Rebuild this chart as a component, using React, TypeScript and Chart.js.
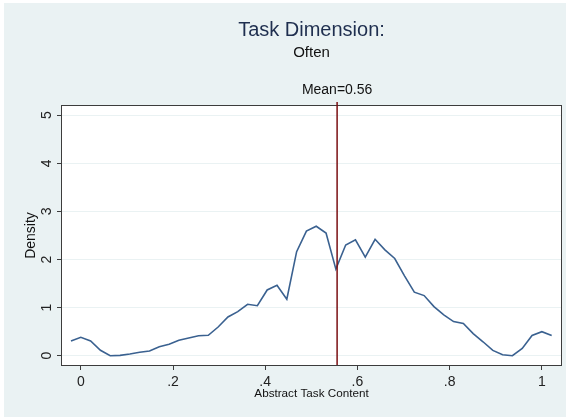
import React, { useEffect, useRef } from "react";
import { Chart, registerables } from "chart.js";

Chart.register(...registerables);

const xValues = [
  -0.0213, 0.0, 0.0213, 0.0426, 0.0638, 0.0851, 0.1064, 0.1277, 0.149, 0.1702,
  0.1915, 0.2128, 0.2341, 0.2554, 0.2766, 0.2979, 0.3192, 0.3405, 0.3618, 0.383,
  0.4043, 0.4256, 0.4469, 0.4682, 0.4894, 0.5107, 0.532, 0.5533, 0.5746, 0.5958,
  0.6171, 0.6384, 0.6597, 0.681, 0.7022, 0.7235, 0.7448, 0.7661, 0.7874, 0.8086,
  0.8299, 0.8512, 0.8725, 0.8938, 0.915, 0.9363, 0.9576, 0.9789, 1.0002, 1.0215,
];

const densityValues = [
  0.306, 0.383, 0.306, 0.112, 0.0, 0.008, 0.035, 0.071, 0.098, 0.187,
  0.237, 0.32, 0.368, 0.416, 0.424, 0.597, 0.805, 0.915, 1.069, 1.04,
  1.366, 1.464, 1.173, 2.162, 2.59, 2.69, 2.55, 1.8, 2.3, 2.41,
  2.05, 2.42, 2.2, 2.02, 1.66, 1.32, 1.25, 1.02, 0.85, 0.71,
  0.67, 0.46, 0.29, 0.11, 0.02, 0.0, 0.15, 0.42, 0.5, 0.42,
];

const meanValue = 0.556;
const meanLabel = "Mean=0.56";
const xTicks = [0, 0.2, 0.4, 0.6, 0.8, 1];
const xTickLabels = ["0", ".2", ".4", ".6", ".8", "1"];
const yTicks = [0, 1, 2, 3, 4, 5];
const yTickLabels = ["0", "1", "2", "3", "4", "5"];
const titleText = "Task Dimension:";
const subtitleText = "Often";
const xTitle = "Abstract Task Content";
const yTitle = "Density";

const FONT = "'Liberation Sans', Arial, sans-serif";
const BG = "#eaf2f3";

export default function App() {
  const ref = useRef<HTMLCanvasElement | null>(null);

  useEffect(() => {
    document.body.style.margin = "0";
    const canvas = ref.current;
    if (!canvas) return;

    const decor = {
      id: "decor",
      beforeDraw(chart: any) {
        const { ctx, chartArea } = chart;
        ctx.save();
        ctx.fillStyle = "#ffffff";
        ctx.fillRect(0, 0, chart.width, chart.height);
        ctx.fillStyle = BG;
        ctx.fillRect(4, 3, chart.width - 7, chart.height - 5);
        ctx.fillStyle = "#ffffff";
        ctx.fillRect(chartArea.left, chartArea.top, chartArea.right - chartArea.left, chartArea.bottom - chartArea.top);
        ctx.restore();
      },
      afterDraw(chart: any) {
        const { ctx, chartArea, scales } = chart;
        ctx.save();
        ctx.strokeStyle = "#3c3c3c";
        ctx.lineWidth = 1;
        ctx.strokeRect(chartArea.left - 0.5, chartArea.top - 0.5, chartArea.right - chartArea.left + 1, chartArea.bottom - chartArea.top + 1);
        const mx = scales.x.getPixelForValue(meanValue);
        ctx.strokeStyle = "#7a0f12";
        ctx.lineWidth = 1.5;
        ctx.beginPath();
        ctx.moveTo(mx, chartArea.top - 4);
        ctx.lineTo(mx, chartArea.bottom);
        ctx.stroke();
        const cx = (chartArea.left + chartArea.right) / 2;
        const cy = (chartArea.top + chartArea.bottom) / 2;
        ctx.textAlign = "center";
        ctx.textBaseline = "middle";
        ctx.fillStyle = "#1f2f4f";
        ctx.font = `20px ${FONT}`;
        ctx.fillText(titleText, cx, 30);
        ctx.fillStyle = "#111111";
        ctx.font = `15px ${FONT}`;
        ctx.fillText(subtitleText, cx, 53);
        ctx.font = `14px ${FONT}`;
        ctx.fillText(meanLabel, mx, 90);
        ctx.font = `11.7px ${FONT}`;
        ctx.fillText(xTitle, cx, 394);
        ctx.save();
        ctx.translate(31, cy);
        ctx.rotate(-Math.PI / 2);
        ctx.font = `14px ${FONT}`;
        ctx.fillText(yTitle, 0, 0);
        ctx.restore();
        ctx.restore();
      },
    };

    const chart = new Chart(canvas, {
      type: "line",
      data: {
        datasets: [
          {
            data: xValues.map((x, i) => ({ x, y: densityValues[i] })),
            borderColor: "#3a6190",
            borderWidth: 1.6,
            pointRadius: 0,
            tension: 0,
            fill: false,
          },
        ],
      },
      options: {
        animation: false,
        responsive: false,
        maintainAspectRatio: false,
        layout: { padding: { top: 106, right: 8, left: 0, bottom: 0 } },
        plugins: { legend: { display: false }, title: { display: false }, tooltip: { enabled: false } },
        scales: {
          x: {
            type: "linear",
            min: -0.0408,
            max: 1.0417,
            afterBuildTicks: (s: any) => {
              s.ticks = xTicks.map((v) => ({ value: v }));
            },
            afterFit: (s: any) => {
              s.height = 54;
            },
            grid: { drawOnChartArea: false, drawTicks: true, tickLength: 5, tickColor: "#3c3c3c", tickWidth: 1 },
            border: { display: false },
            ticks: {
              autoSkip: false,
              maxRotation: 0,
              minRotation: 0,
              padding: 4,
              color: "#222222",
              font: { family: FONT, size: 14 },
              callback: (_v: any, i: number) => xTickLabels[i],
            },
          },
          y: {
            type: "linear",
            min: -0.193,
            max: 5.19,
            afterBuildTicks: (s: any) => {
              s.ticks = yTicks.map((v) => ({ value: v }));
            },
            afterFit: (s: any) => {
              s.width = 62;
            },
            grid: { color: BG, lineWidth: 1, drawTicks: true, tickLength: 5, tickColor: "#3c3c3c", tickWidth: 1 },
            border: { display: false },
            ticks: {
              autoSkip: false,
              minRotation: 90,
              maxRotation: 90,
              crossAlign: "center",
              padding: 6,
              color: "#222222",
              font: { family: FONT, size: 14 },
              callback: (_v: any, i: number) => yTickLabels[i],
            },
          },
        },
      },
      plugins: [decor],
    });

    return () => chart.destroy();
  }, []);

  return (
    <div style={{ width: 569, height: 419 }}>
      <canvas ref={ref} width={569} height={419} style={{ display: "block", width: 569, height: 419 }} />
    </div>
  );
}
